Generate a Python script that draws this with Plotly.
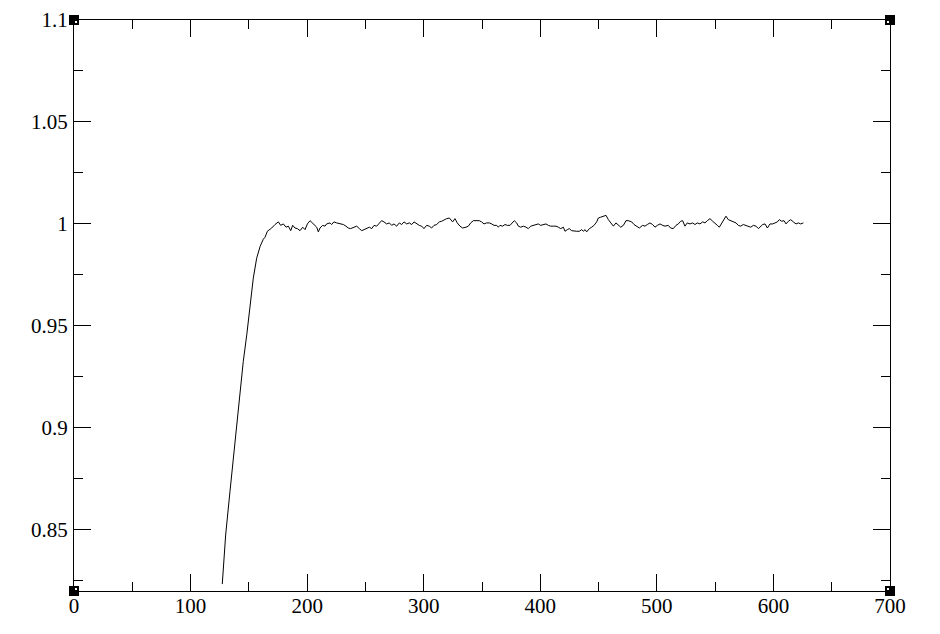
import plotly.graph_objects as go

# ---- data ----
x_vals = [
    127.2, 130.1, 133.8, 138.1, 142.4, 145.2, 148.2, 151.0, 153.8, 156.7, 159.6, 162.4,
    163.9, 165.9, 169.6, 172.4, 175.3, 177.3, 179.6, 181.9, 183.9, 185.9, 187.6, 189.6,
    191.6, 193.9, 196.2, 198.2, 200.2, 202.5, 204.5, 206.7, 208.2, 209.6, 211.0, 213.3,
    215.3, 216.7, 219.6, 221.0, 223.0, 225.3, 228.2, 231.1, 233.3, 235.3, 237.3, 239.6,
    242.5, 244.8, 246.8, 248.8, 251.1, 253.4, 255.4, 257.4, 259.6, 261.9, 263.9, 265.9,
    268.2, 270.5, 272.5, 274.5, 276.8, 279.1, 281.1, 283.1, 285.4, 287.7, 289.7, 291.7,
    294.0, 296.2, 298.2, 300.2, 302.5, 304.8, 306.8, 308.8, 311.1, 313.4, 315.4, 317.4,
    319.7, 322.0, 324.8, 326.8, 328.8, 331.1, 333.4, 336.3, 338.3, 340.3, 342.6, 344.9,
    347.7, 349.7, 351.7, 354.0, 356.3, 358.3, 360.3, 362.6, 364.0, 365.4, 367.7, 369.7,
    371.7, 374.0, 376.3, 377.7, 379.7, 381.2, 383.2, 385.5, 387.8, 389.7, 391.8, 394.0,
    396.3, 398.3, 400.3, 402.6, 404.9, 406.9, 408.9, 411.2, 413.5, 415.5, 417.5, 419.8,
    421.2, 423.2, 424.9, 426.9, 428.9, 431.2, 433.5, 435.5, 436.9, 438.4, 439.8, 442.1,
    444.1, 446.1, 448.4, 449.8, 451.8, 454.1, 456.4, 458.4, 460.4, 462.7, 464.9, 467.0,
    469.0, 471.3, 473.5, 475.5, 478.4, 480.4, 482.7, 485.0, 487.8, 489.8, 491.8, 494.1,
    496.4, 498.4, 500.4, 502.7, 505.0, 507.0, 509.8, 511.8, 514.1, 516.4, 518.4, 520.4,
    522.1, 524.1, 526.1, 528.4, 530.7, 532.7, 534.7, 537.0, 539.3, 541.3, 543.3, 545.6,
    547.9, 549.9, 551.9, 553.6, 555.6, 557.6, 559.3, 561.3, 563.3, 565.6, 567.9, 569.9,
    571.9, 574.2, 576.5, 578.5, 580.5, 582.8, 585.1, 587.1, 589.1, 590.8, 592.8, 594.8,
    597.1, 599.4, 601.4, 603.4, 605.1, 607.1, 609.1, 610.8, 612.8, 614.8, 617.1, 619.4,
    621.4, 623.4, 625.7,
]
y_vals = [
    0.8234, 0.8475, 0.8688, 0.8933, 0.9195, 0.9325, 0.9456, 0.9603, 0.9734, 0.9832, 0.9889, 0.9925,
    0.9935, 0.9964, 0.9980, 0.9997, 1.0010, 0.9993, 1.0000, 0.9984, 0.9989, 0.9967, 0.9993, 0.9980,
    0.9977, 0.9967, 0.9984, 0.9972, 1.0000, 1.0016, 1.0005, 0.9993, 0.9984, 0.9961, 0.9980, 0.9993,
    0.9989, 1.0000, 1.0005, 0.9997, 1.0010, 1.0005, 1.0000, 0.9997, 0.9989, 0.9980, 0.9977, 0.9984,
    0.9989, 0.9977, 0.9967, 0.9972, 0.9977, 0.9984, 0.9977, 0.9993, 0.9989, 1.0005, 1.0016, 1.0010,
    1.0000, 1.0005, 0.9993, 1.0000, 0.9989, 1.0005, 0.9997, 1.0010, 1.0000, 1.0005, 0.9997, 1.0010,
    1.0000, 0.9993, 0.9989, 0.9977, 0.9993, 0.9989, 0.9980, 0.9993, 0.9997, 1.0010, 1.0013, 1.0021,
    1.0026, 1.0029, 1.0010, 1.0026, 1.0005, 0.9989, 0.9980, 0.9984, 0.9989, 1.0005, 1.0016, 1.0016,
    1.0016, 1.0010, 1.0000, 1.0005, 1.0005, 1.0000, 0.9993, 0.9993, 0.9984, 0.9993, 0.9989, 0.9997,
    0.9993, 0.9993, 1.0005, 1.0016, 1.0005, 0.9989, 0.9984, 0.9989, 0.9984, 0.9977, 0.9989, 0.9993,
    0.9997, 1.0000, 0.9993, 0.9997, 1.0000, 0.9993, 0.9989, 0.9989, 0.9989, 0.9984, 0.9977, 0.9984,
    0.9964, 0.9972, 0.9977, 0.9967, 0.9964, 0.9964, 0.9964, 0.9972, 0.9964, 0.9972, 0.9961, 0.9977,
    0.9984, 0.9993, 1.0010, 1.0029, 1.0033, 1.0038, 1.0042, 1.0021, 1.0005, 0.9989, 1.0005, 0.9993,
    0.9984, 0.9993, 1.0016, 1.0016, 1.0010, 0.9997, 0.9989, 0.9980, 0.9993, 0.9989, 0.9997, 1.0005,
    0.9997, 0.9984, 0.9993, 1.0000, 0.9993, 0.9989, 0.9993, 0.9980, 0.9977, 0.9993, 1.0000, 1.0013,
    1.0016, 0.9989, 1.0005, 1.0000, 1.0005, 0.9997, 1.0005, 1.0000, 1.0010, 1.0005, 1.0016, 1.0026,
    1.0013, 1.0005, 0.9993, 0.9984, 1.0005, 1.0021, 1.0038, 1.0021, 1.0016, 1.0010, 1.0005, 0.9993,
    0.9989, 0.9997, 0.9993, 0.9989, 0.9984, 0.9993, 0.9989, 0.9977, 0.9989, 0.9997, 1.0000, 0.9980,
    1.0000, 1.0000, 1.0005, 1.0010, 1.0021, 1.0013, 1.0016, 1.0000, 1.0013, 1.0021, 1.0010, 1.0000,
    1.0005, 1.0000, 1.0005,
]

x_range = [0, 700]
y_range = [0.82, 1.1]
x_tickvals = [0, 100, 200, 300, 400, 500, 600, 700]
x_ticktext = ["0", "100", "200", "300", "400", "500", "600", "700"]
y_tickvals = [0.85, 0.9, 0.95, 1.0, 1.05, 1.1]
y_ticktext = ["0.85", "0.9", "0.95", "1", "1.05", "1.1"]

FONT = "Liberation Serif"

fig = go.Figure()
fig.add_trace(go.Scatter(
    x=x_vals, y=y_vals, mode="lines",
    line=dict(color="black", width=1),
    showlegend=False, hoverinfo="skip",
))

axis_common = dict(
    showline=True, linecolor="black", linewidth=1.3,
    mirror="ticks", ticks="inside", ticklen=17, tickwidth=1.3, tickcolor="black",
    showgrid=False, zeroline=False, automargin=False,
    tickfont=dict(family=FONT, size=21, color="black"),
)

fig.update_xaxes(
    range=x_range, tickmode="array", tickvals=x_tickvals, ticktext=x_ticktext,
    minor=dict(dtick=50, tick0=0, ticks="inside", ticklen=9, tickwidth=1.3, tickcolor="black", showgrid=False),
    ticklabelstandoff=-4,
    **axis_common,
)
fig.update_yaxes(
    range=y_range, tickmode="array", tickvals=y_tickvals, ticktext=y_ticktext,
    minor=dict(dtick=0.025, tick0=0.8, ticks="inside", ticklen=9, tickwidth=1.3, tickcolor="black", showgrid=False),
    ticklabelstandoff=1,
    **axis_common,
)

# corner markers (frame decorations)
shapes = []
for cx, cy, dx, dy in [(0, 0, 1, 1), (1, 0, -1, 1), (0, 1, 1, -1), (1, 1, -1, -1)]:
    shapes.append(dict(type="rect", xref="paper", yref="paper",
                       xsizemode="pixel", ysizemode="pixel", xanchor=cx, yanchor=cy,
                       x0=-5, x1=5, y0=-5, y1=5,
                       fillcolor="black", line=dict(width=0), layer="above"))
    xs = sorted([dx * 1, dx * 3])
    ys = sorted([dy * 1, dy * 3])
    shapes.append(dict(type="rect", xref="paper", yref="paper",
                       xsizemode="pixel", ysizemode="pixel", xanchor=cx, yanchor=cy,
                       x0=xs[0], x1=xs[1], y0=ys[0], y1=ys[1],
                       fillcolor="white", line=dict(width=0), layer="above"))

# page body has an 8px default margin: compensate so the plot frame lands where the reference has it
fig.update_layout(
    width=924, height=618,
    margin=dict(l=66, r=42, t=12, b=35),
    paper_bgcolor="white", plot_bgcolor="white",
    shapes=shapes,
    font=dict(family=FONT, color="black"),
)

fig.write_html("out.html")
